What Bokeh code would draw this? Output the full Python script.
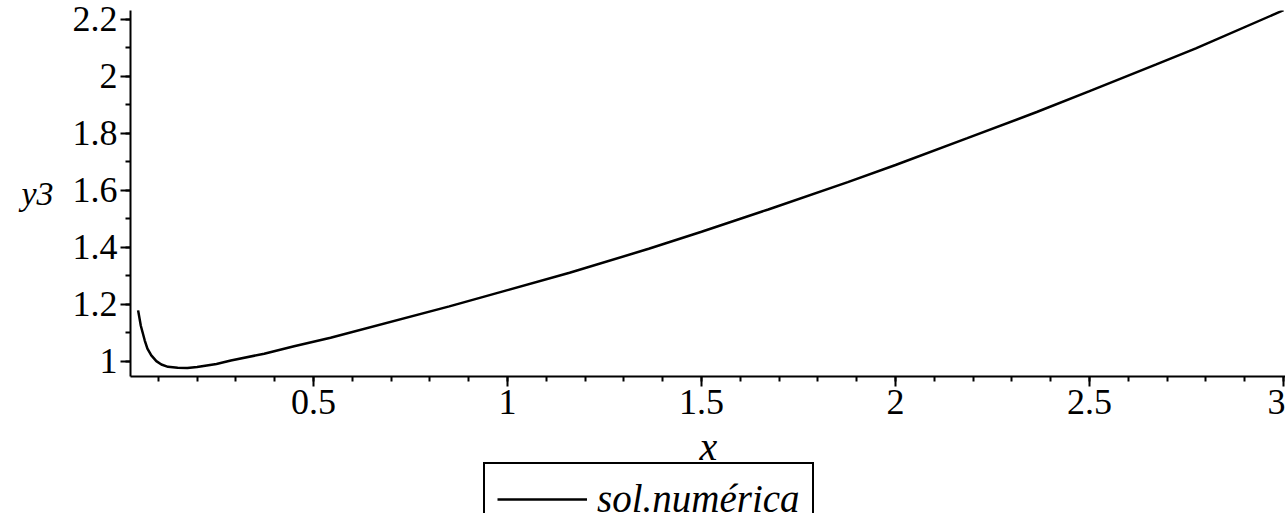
from bokeh.plotting import figure
from bokeh.layouts import column
from bokeh.models import (Range1d, SingleIntervalTicker, CustomJSTickFormatter, Legend,
                          LegendItem, Label)
from bokeh.embed import file_html
from bokeh.resources import INLINE

# data
x_vals = [0.048, 0.055, 0.065, 0.072, 0.082, 0.095, 0.108, 0.125, 0.15, 0.175, 0.2, 0.25,
          0.287, 0.373, 0.45, 0.544, 0.85, 1.0, 1.16, 1.364, 1.5, 1.672, 1.877, 2.0, 2.185,
          2.364, 2.5, 2.672, 2.774, 3.0]
y_vals = [1.179, 1.125, 1.074, 1.045, 1.021, 1.001, 0.989, 0.981, 0.978, 0.977, 0.980, 0.991,
          1.003, 1.027, 1.053, 1.083, 1.193, 1.25, 1.311, 1.395, 1.455, 1.533, 1.629, 1.689, 1.783,
          1.875, 1.948, 2.042, 2.098, 2.232]
series_name = "sol.numérica"
x_label = "x"
y_label = "y3"

FONT = "Liberation Serif"

# ---- main plot ----
p = figure(width=1285, height=430, output_backend="svg", toolbar_location=None,
           x_range=Range1d(0.0284, 3.005), y_range=Range1d(0.947, 2.231),
           min_border_left=130, min_border_right=0, min_border_top=10, min_border_bottom=54)
p.outline_line_color = None
p.xgrid.visible = False
p.ygrid.visible = False
p.background_fill_color = "white"
p.border_fill_color = "white"

r = p.line(x_vals, y_vals, line_color="black", line_width=2.5)

fmt = CustomJSTickFormatter(code="return String(Math.round(tick*10)/10)")

for ax in (p.xaxis[0], p.yaxis[0]):
    ax.axis_line_color = "black"
    ax.axis_line_width = 2
    ax.major_tick_line_color = "black"
    ax.major_tick_line_width = 2
    ax.minor_tick_line_color = "black"
    ax.minor_tick_line_width = 2
    ax.major_tick_in = 0
    ax.major_tick_out = 10
    ax.minor_tick_in = 0
    ax.minor_tick_out = 5
    ax.major_label_text_font = FONT
    ax.major_label_text_font_size = "36px"
    ax.major_label_text_color = "black"
    ax.axis_label_text_font = FONT
    ax.axis_label_text_font_style = "italic"
    ax.axis_label_text_color = "black"
    ax.formatter = fmt

p.yaxis[0].axis_label_text_font_size = "34px"
p.xaxis[0].ticker = SingleIntervalTicker(interval=0.5, num_minor_ticks=5)
p.yaxis[0].ticker = SingleIntervalTicker(interval=0.2, num_minor_ticks=2)
p.yaxis[0].axis_label = y_label
p.yaxis[0].axis_label_orientation = "horizontal"
p.xaxis[0].major_label_standoff = 3
p.yaxis[0].major_label_standoff = 3
p.yaxis[0].axis_label_standoff = 16

# ---- strip below: x-axis title and legend ----
p2 = figure(width=1285, height=83, output_backend="svg", toolbar_location=None,
            x_axis_type=None, y_axis_type=None,
            x_range=Range1d(10, 11), y_range=Range1d(10, 11),
            min_border_left=130, min_border_right=0, min_border_top=0, min_border_bottom=0)
p2.outline_line_color = None
p2.xgrid.visible = False
p2.ygrid.visible = False
p2.background_fill_color = "white"
p2.border_fill_color = "white"

xlab = Label(x=578, y=67, x_units="screen", y_units="screen", text=x_label,
             text_align="center", text_baseline="alphabetic",
             text_font=FONT, text_font_style="italic", text_font_size="40px",
             text_color="black")
p2.add_layout(xlab)

# same series, out of this strip's view: only its legend swatch shows
sample = p2.line(x_vals, y_vals, line_color="black", line_width=2.5)

legend = Legend(items=[LegendItem(label=series_name, renderers=[sample])],
                location=(353, -22), margin=0, padding=12,
                glyph_width=90, label_standoff=10,
                border_line_color="black", border_line_width=2, border_line_alpha=1.0,
                label_text_font=FONT, label_text_font_style="italic",
                label_text_font_size="39px", label_text_color="black",
                background_fill_alpha=1.0)
p2.add_layout(legend, "center")

layout = column(p, p2, spacing=0)
open("out.html", "w").write(file_html(layout, INLINE))
